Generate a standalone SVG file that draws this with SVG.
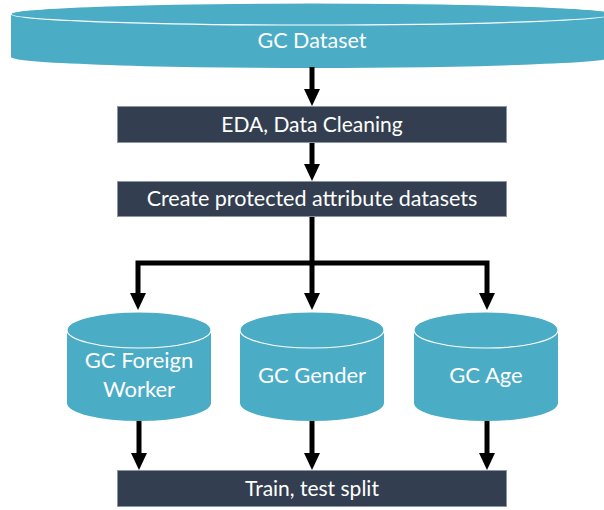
<svg xmlns="http://www.w3.org/2000/svg" width="604" height="510" viewBox="0 0 604 510">
  <defs>
    <marker id="head" markerUnits="userSpaceOnUse" viewBox="0 -8 17 16" markerWidth="17" markerHeight="16" refX="0" refY="0" orient="auto">
      <path d="M0,-8 L17,0 L0,8 Z" fill="#000"/>
    </marker>
    <style>
      .db { fill: #4BACC6; }
      .lid { fill: #4BACC6; stroke: #FFFFFF; stroke-width: 1.2; }
      .box { fill: #333F50; stroke: #8C96A3; stroke-width: 1; }
      .lbl { font-family: Lato, "Open Sans", sans-serif; fill: #FFFFFF; text-anchor: middle; }
      .edge { fill: none; stroke: #000; stroke-width: 5; }
    </style>
  </defs>

  <rect width="604" height="510" fill="#FFFFFF"/>

  <g id="gc-dataset">
    <path class="db" d="M11,14 L11,57 A301,11 0 0 0 613,57 L613,14 Z"/>
    <ellipse class="lid" cx="312" cy="14" rx="301" ry="11"/>
    <text class="lbl" x="312" y="48" font-size="21.5">GC Dataset</text>
  </g>

  <g id="eda">
    <rect class="box" x="117.5" y="106.5" width="389" height="36"/>
    <text class="lbl" x="312" y="132" font-size="21">EDA, Data Cleaning</text>
  </g>

  <g id="protected">
    <rect class="box" x="117.5" y="181.5" width="389" height="35"/>
    <text class="lbl" x="312" y="206" font-size="21.5">Create protected attribute datasets</text>
  </g>

  <g id="gc-foreign-worker">
    <path class="db" d="M67,330 L67,403 A72,18 0 0 0 211,403 L211,330 Z"/>
    <ellipse class="lid" cx="139" cy="330" rx="72" ry="18"/>
    <text class="lbl" x="139" y="368" font-size="22">GC Foreign</text>
    <text class="lbl" x="139" y="397" font-size="22">Worker</text>
  </g>

  <g id="gc-gender">
    <path class="db" d="M240,330 L240,403 A72,18 0 0 0 384,403 L384,330 Z"/>
    <ellipse class="lid" cx="312" cy="330" rx="72" ry="18"/>
    <text class="lbl" x="312" y="383" font-size="22">GC Gender</text>
  </g>

  <g id="gc-age">
    <path class="db" d="M414,330 L414,403 A72,18 0 0 0 558,403 L558,330 Z"/>
    <ellipse class="lid" cx="486" cy="330" rx="72" ry="18"/>
    <text class="lbl" x="486" y="383" font-size="22">GC Age</text>
  </g>

  <g id="split">
    <rect class="box" x="117.5" y="470.5" width="389" height="36"/>
    <text class="lbl" x="312" y="496" font-size="21">Train, test split</text>
  </g>

  <g id="connectors">
    <path class="edge" d="M312,67 L312,89" marker-end="url(#head)"/>
    <path class="edge" d="M312,143 L312,164" marker-end="url(#head)"/>
    <path class="edge" d="M312,217 L312,293" marker-end="url(#head)"/>
    <path class="edge" d="M312,263 L138,263 L138,293" marker-end="url(#head)"/>
    <path class="edge" d="M312,263 L487,263 L487,293" marker-end="url(#head)"/>
    <path class="edge" d="M139,421 L139,453" marker-end="url(#head)"/>
    <path class="edge" d="M312,421 L312,453" marker-end="url(#head)"/>
    <path class="edge" d="M487,421 L487,453" marker-end="url(#head)"/>
  </g>
</svg>
